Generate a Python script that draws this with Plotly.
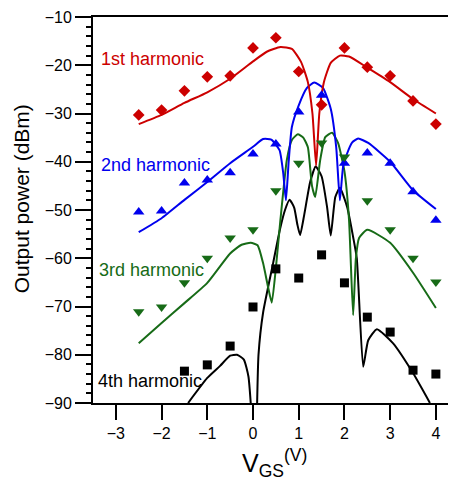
import plotly.graph_objects as go

# ---- data (V_GS in volts, output power in dBm) ----
vgs_meas = [-2.5, -2, -1.5, -1, -0.5, 0, 0.5, 1.0, 1.5, 2.0, 2.5, 3.0, 3.5, 4.0]
h1_meas = [-30.3, -29.3, -25.3, -22.4, -22.2, -16.4, -14.3, -21.3, -28.2, -16.4, -20.4, -22.2, -27.4, -32.2]
h2_meas = [-50.4, -50.2, -44.4, -43.8, -42.3, -38.4, -36.3, -29.7, -26.2, -40.3, -38.2, -40.3, -46.2, -52.1]
h3_meas = [-71.1, -70.1, -65.1, -60.0, -55.8, -54.1, -46.0, -40.3, -36.1, -39.0, -48.1, -54.1, -60.0, -64.9]
vgs_meas4 = [-1.5, -1, -0.5, 0, 0.5, 1.0, 1.5, 2.0, 2.5, 3.0, 3.5, 4.0]
h4_meas = [-83.4, -82.1, -78.2, -70.1, -62.2, -64.1, -59.3, -65.1, -72.2, -75.3, -83.2, -84.0]

h1_sim_v = [-2.5, -2, -1.5, -1, -0.5, 0, 0.3, 0.6, 0.85, 1.05, 1.2, 1.3, 1.38, 1.45, 1.55, 1.7, 1.9, 2.1, 2.5, 3.0, 3.5, 4.0]
h1_sim_p = [-32.2, -30.3, -27.8, -25.6, -22.8, -19.2, -17.2, -16.2, -16.6, -19.3, -23.5, -30.0, -40.8, -30.0, -23.5, -19.5, -18.0, -18.2, -20.5, -23.5, -27.0, -30.0]

h2_sim_v = [-2.5, -2, -1.5, -1, -0.5, 0, 0.22, 0.4, 0.58, 0.66, 0.72, 0.78, 0.85, 1.0, 1.18, 1.34, 1.53, 1.7, 1.82, 1.9, 1.97, 2.05, 2.17, 2.3, 2.52, 3.0, 3.5, 4.0]
h2_sim_p = [-54.6, -51.7, -47.9, -44.2, -40.3, -36.9, -35.3, -35.4, -37.6, -42.3, -48.0, -40.0, -32.8, -28.3, -24.7, -23.6, -24.7, -29.0, -37.0, -48.0, -41.0, -38.5, -36.0, -35.2, -36.1, -40.0, -45.9, -49.8]

h3_sim_v = [-2.5, -2, -1.5, -1, -0.5, -0.25, -0.05, 0.1, 0.22, 0.33, 0.41, 0.5, 0.6, 0.74, 0.85, 0.98, 1.1, 1.2, 1.29, 1.36, 1.47, 1.58, 1.73, 1.86, 2.0, 2.1, 2.19, 2.25, 2.32, 2.5, 3.0, 3.5, 4.0]
h3_sim_p = [-77.6, -73.4, -69.3, -65.1, -59.0, -57.2, -56.8, -57.3, -61.0, -66.0, -69.2, -62.0, -52.0, -39.6, -35.5, -34.3, -35.0, -37.0, -45.0, -47.3, -39.6, -34.9, -34.0, -36.1, -42.0, -52.0, -71.8, -60.0, -55.8, -54.1, -56.8, -63.0, -70.3]

h4_sim_v = [-1.42, -1, -0.72, -0.5, -0.35, -0.2, -0.1, -0.05, None, 0.09, 0.12, 0.22, 0.44, 0.59, 0.7, 0.8, 0.9, 0.97, 1.03, 1.12, 1.25, 1.37, 1.5, 1.62, 1.7, 1.8, 1.9, 2.06, 2.19, 2.27, 2.41, 2.52, 2.71, 3.06, 3.5, 3.87]
h4_sim_p = [-90.0, -84.8, -82.3, -80.2, -80.0, -81.0, -84.5, -90.0, None, -90.0, -80.0, -71.3, -61.0, -54.0, -50.0, -47.9, -49.5, -53.0, -55.2, -51.0, -44.2, -41.0, -43.0, -49.4, -55.3, -47.3, -45.4, -49.4, -55.6, -60.0, -82.5, -77.0, -74.7, -77.6, -83.8, -90.0]

x_ticks = [-3, -2, -1, 0, 1, 2, 3, 4]
y_ticks = [-10, -20, -30, -40, -50, -60, -70, -80, -90]

labels = ["1st harmonic", "2nd harmonic", "3rd harmonic", "4th harmonic"]
label_x = [-3.37, -3.37, -3.41, -3.44]
label_y = [-18.7, -40.7, -62.4, -85.4]

RED, BLUE, GREEN, BLACK = "#cc0000", "#0000ee", "#176b17", "#000000"
FONT = "Liberation Sans, Arial, sans-serif"

# the page body has an 8 px margin; size and margins compensate for it
PAGE_OFFSET = 8

fig = go.Figure()
for vx, py, col in [(h4_sim_v, h4_sim_p, BLACK), (h3_sim_v, h3_sim_p, GREEN),
                    (h2_sim_v, h2_sim_p, BLUE), (h1_sim_v, h1_sim_p, RED)]:
    fig.add_trace(go.Scatter(x=vx, y=py, mode="lines",
                             line=dict(color=col, width=2, shape="spline", smoothing=0.5),
                             connectgaps=False, showlegend=False, hoverinfo="skip"))

fig.add_trace(go.Scatter(x=vgs_meas, y=h1_meas, mode="markers",
                         marker=dict(symbol="diamond", size=9, color=RED), showlegend=False))
fig.add_trace(go.Scatter(x=vgs_meas, y=h2_meas, mode="markers",
                         marker=dict(symbol="triangle-up", size=10, color=BLUE), showlegend=False))
fig.add_trace(go.Scatter(x=vgs_meas, y=h3_meas, mode="markers",
                         marker=dict(symbol="triangle-down", size=10, color=GREEN), showlegend=False))
fig.add_trace(go.Scatter(x=vgs_meas4, y=h4_meas, mode="markers",
                         marker=dict(symbol="square", size=9, color=BLACK), showlegend=False))

for txt, lx, ly, col in zip(labels, label_x, label_y, [RED, BLUE, GREEN, BLACK]):
    fig.add_annotation(x=lx, y=ly, xref="x", yref="y", text=txt, showarrow=False,
                       xanchor="left", yanchor="middle",
                       font=dict(family=FONT, size=18, color=col))

# axis titles
fig.add_annotation(x=-0.196, y=0.53, xref="paper", yref="paper", text="Output power (dBm)",
                   showarrow=False, textangle=-90, xanchor="center", yanchor="middle",
                   font=dict(family=FONT, size=21, color="black"))
fig.add_annotation(x=0.50, y=-0.104, xref="paper", yref="paper",
                   text="V<sub>GS</sub><sup>(V)</sup>", showarrow=False,
                   xanchor="center", yanchor="top",
                   font=dict(family=FONT, size=25, color="black"))

fig.update_xaxes(range=[-3.5, 4.44], tickvals=x_ticks, ticks="outside", ticklen=15, tickwidth=2,
                 tickcolor="black", showline=True, linecolor="black", linewidth=2, mirror=True,
                 showgrid=False, zeroline=False, tickfont=dict(family=FONT, size=16, color="black"))
fig.update_yaxes(range=[-90, -10], tickvals=y_ticks, ticks="outside", ticklen=16, tickwidth=2,
                 tickcolor="black", showline=True, linecolor="black", linewidth=2,
                 showgrid=False, zeroline=False, tickfont=dict(family=FONT, size=16, color="black"),
                 minor=dict(dtick=2, tick0=-90, ticks="outside", ticklen=5, tickwidth=1.5,
                            tickcolor="black", showgrid=False))

fig.update_layout(width=456 - PAGE_OFFSET, height=483 - PAGE_OFFSET, autosize=False,
                  margin=dict(l=93 - PAGE_OFFSET, r=0, t=17 - PAGE_OFFSET, b=80, pad=0),
                  plot_bgcolor="white", paper_bgcolor="white",
                  font=dict(family=FONT, color="black"))

fig.write_html("out.html")
